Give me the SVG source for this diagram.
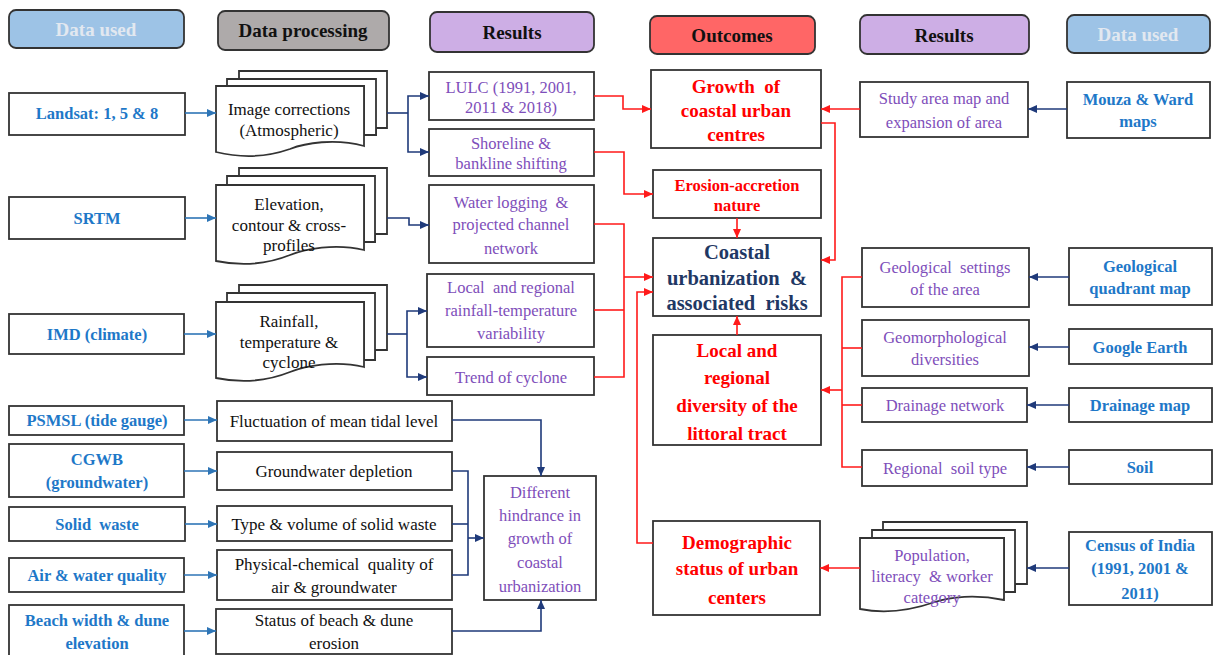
<svg xmlns="http://www.w3.org/2000/svg" width="1214" height="655" viewBox="0 0 1214 655">
<style>
text{font-family:"Liberation Serif","Times New Roman",serif;text-anchor:middle;dominant-baseline:central}
.box{fill:#fff;stroke:#333;stroke-width:1.8}
.hdr{stroke:#333;stroke-width:1.8}
.h{font-size:19px;font-weight:bold;fill:#111}
.hl{font-size:19px;font-weight:bold;fill:#E2E8F0}
.d{font-size:16.5px;font-weight:bold;fill:#1E78C8}
.p{font-size:17px;fill:#111}
.r{font-size:16.5px;fill:#7E4EBA}
.o{font-size:19px;font-weight:bold;fill:#FF0000}
.c{font-size:20.5px;font-weight:bold;fill:#1F3864}
.lb{fill:none;stroke:#2E75B6;stroke-width:1.6}
.ln{fill:none;stroke:#1F3A7A;stroke-width:1.6}
.lr{fill:none;stroke:#FF1A1A;stroke-width:1.6}
</style>
<defs>
<marker id="ab" markerUnits="userSpaceOnUse" markerWidth="10" markerHeight="10" refX="9" refY="5" orient="auto"><path d="M0,1 L9,5 L0,9 z" fill="#2E75B6"/></marker>
<marker id="an" markerUnits="userSpaceOnUse" markerWidth="10" markerHeight="10" refX="9" refY="5" orient="auto"><path d="M0,1 L9,5 L0,9 z" fill="#1F3A7A"/></marker>
<marker id="ar" markerUnits="userSpaceOnUse" markerWidth="10" markerHeight="10" refX="9" refY="5" orient="auto"><path d="M0,1 L9,5 L0,9 z" fill="#FF1A1A"/></marker>
</defs>

<!-- Headers -->
<g id="hdr-data-left"><rect class="hdr" x="9" y="10" width="175" height="38" rx="7" fill="#9DC3E6"/><text class="hl" x="96" y="29">Data used</text></g>
<g id="hdr-processing"><rect class="hdr" x="218" y="11" width="171" height="39" rx="7" fill="#AEAAAA"/><text class="h" x="303" y="30">Data processing</text></g>
<g id="hdr-results-left"><rect class="hdr" x="430" y="12" width="164" height="40" rx="7" fill="#CDAEE5"/><text class="h" x="512" y="32">Results</text></g>
<g id="hdr-outcomes"><rect class="hdr" x="650" y="16" width="165" height="38" rx="7" fill="#FF6666"/><text class="h" x="732" y="35">Outcomes</text></g>
<g id="hdr-results-right"><rect class="hdr" x="860" y="15" width="169" height="39" rx="7" fill="#CDAEE5"/><text class="h" x="944" y="35">Results</text></g>
<g id="hdr-data-right"><rect class="hdr" x="1067" y="15" width="143" height="38" rx="7" fill="#9DC3E6"/><text class="hl" x="1138" y="34">Data used</text></g>

<!-- Left data used -->
<g id="landsat"><rect class="box" x="9" y="93" width="176" height="42"/><text class="d" x="97" y="113">Landsat: 1, 5 &amp; 8</text></g>
<g id="srtm"><rect class="box" x="9" y="197" width="176" height="42"/><text class="d" x="97" y="218">SRTM</text></g>
<g id="imd"><rect class="box" x="9" y="314" width="175" height="40"/><text class="d" x="97" y="334">IMD (climate)</text></g>
<g id="psmsl"><rect class="box" x="9" y="406" width="175" height="29"/><text class="d" x="97" y="420">PSMSL (tide gauge)</text></g>
<g id="cgwb"><rect class="box" x="9" y="444" width="175" height="53"/><text class="d" x="97" y="459">CGWB</text><text class="d" x="97" y="482">(groundwater)</text></g>
<g id="solidwaste"><rect class="box" x="9" y="507" width="176" height="34"/><text class="d" x="97" y="524" xml:space="preserve">Solid  waste</text></g>
<g id="airwater"><rect class="box" x="9" y="558" width="175" height="34"/><text class="d" x="97" y="575">Air &amp; water quality</text></g>
<g id="beach"><rect class="box" x="9" y="605" width="175" height="60"/><text class="d" x="97" y="620">Beach width &amp; dune</text><text class="d" x="97" y="643">elevation</text></g>

<!-- Data processing multi-documents -->
<g id="imagecorr">
<path class="box" d="M239,71 H387 V128 H376 V135 H364 V86 H239 z"/>
<path class="box" d="M227,79 H376 V135 H364 V86 H227 z"/>
<path class="box" d="M216,86 H364 V146 C335,138 305,143 290,149 C270,156 245,159 216,152 z"/>
<text class="p" x="289" y="109">Image corrections</text><text class="p" x="289" y="130">(Atmospheric)</text>
</g>
<g id="elevation">
<path class="box" d="M239,168 H387 V234 H375 V242 H364 V185 H239 z"/>
<path class="box" d="M227,176 H375 V242 H364 V185 H227 z"/>
<path class="box" d="M216,185 H364 V250 C335,243 305,249 290,255 C270,263 245,267 216,261 z"/>
<text class="p" x="289" y="204">Elevation,</text><text class="p" x="289" y="225">contour &amp; cross-</text><text class="p" x="289" y="245">profiles</text>
</g>
<g id="rainfall">
<path class="box" d="M239,285 H387 V350 H375 V360 H364 V302 H239 z"/>
<path class="box" d="M227,293 H375 V360 H364 V302 H227 z"/>
<path class="box" d="M216,302 H364 V367 C335,360 305,366 290,372 C270,380 245,384 216,378 z"/>
<text class="p" x="289" y="321">Rainfall,</text><text class="p" x="289" y="342">temperature &amp;</text><text class="p" x="289" y="362">cyclone</text>
</g>

<!-- Lower processing boxes -->
<g id="tidal"><rect class="box" x="217" y="401" width="235" height="40"/><text class="p" x="334" y="421">Fluctuation of mean tidal level</text></g>
<g id="gwdepl"><rect class="box" x="217" y="452" width="235" height="38"/><text class="p" x="334" y="471">Groundwater depletion</text></g>
<g id="typevol"><rect class="box" x="217" y="506" width="235" height="35"/><text class="p" x="334" y="524">Type &amp; volume of solid waste</text></g>
<g id="physchem"><rect class="box" x="217" y="550" width="235" height="50"/><text class="p" x="334" y="564" xml:space="preserve">Physical-chemical  quality of</text><text class="p" x="334" y="587">air &amp; groundwater</text></g>
<g id="beachstatus"><rect class="box" x="216" y="609" width="236" height="45"/><text class="p" x="334" y="620">Status of beach &amp; dune</text><text class="p" x="334" y="643">erosion</text></g>

<!-- Results left -->
<g id="lulc"><rect class="box" x="429" y="72" width="165" height="48"/><text class="r" x="511" y="87">LULC (1991, 2001,</text><text class="r" x="511" y="107">2011 &amp; 2018)</text></g>
<g id="shoreline"><rect class="box" x="429" y="129" width="165" height="47"/><text class="r" x="511" y="143">Shoreline &amp;</text><text class="r" x="511" y="163">bankline shifting</text></g>
<g id="waterlog"><rect class="box" x="429" y="185" width="165" height="78"/><text class="r" x="511" y="202" xml:space="preserve">Water logging  &amp;</text><text class="r" x="511" y="224">projected channel</text><text class="r" x="511" y="248">network</text></g>
<g id="rainvar"><rect class="box" x="427" y="274" width="167" height="73"/><text class="r" x="511" y="287" xml:space="preserve">Local  and regional</text><text class="r" x="511" y="310">rainfall-temperature</text><text class="r" x="511" y="333">variability</text></g>
<g id="cyclone"><rect class="box" x="427" y="357" width="167" height="38"/><text class="r" x="511" y="377">Trend of cyclone</text></g>
<g id="hindrance"><rect class="box" x="484" y="476" width="112" height="124"/><text class="r" x="540" y="492">Different</text><text class="r" x="540" y="515">hindrance in</text><text class="r" x="540" y="538">growth of</text><text class="r" x="540" y="562">coastal</text><text class="r" x="540" y="586">urbanization</text></g>

<!-- Outcomes -->
<g id="growth"><rect class="box" x="651" y="70" width="170" height="78"/><text class="o" x="736" y="86" xml:space="preserve">Growth  of</text><text class="o" x="736" y="110">coastal urban</text><text class="o" x="736" y="134">centres</text></g>
<g id="erosion"><rect class="box" x="653" y="170" width="168" height="48"/><text class="o" x="737" y="185" style="font-size:16.5px">Erosion-accretion</text><text class="o" x="737" y="205" style="font-size:16.5px">nature</text></g>
<g id="coastal"><rect class="box" x="653" y="238" width="168" height="78"/><text class="c" x="737" y="252">Coastal</text><text class="c" x="737" y="278" xml:space="preserve">urbanization  &amp;</text><text class="c" x="737" y="303" xml:space="preserve">associated  risks</text></g>
<g id="diversity"><rect class="box" x="653" y="335" width="168" height="110"/><text class="o" x="737" y="350">Local and</text><text class="o" x="737" y="377">regional</text><text class="o" x="737" y="405">diversity of the</text><text class="o" x="737" y="433">littoral tract</text></g>
<g id="demographic"><rect class="box" x="653" y="521" width="167" height="94"/><text class="o" x="737" y="542">Demographic</text><text class="o" x="737" y="568">status of urban</text><text class="o" x="737" y="597">centers</text></g>

<!-- Results right -->
<g id="studyarea"><rect class="box" x="860" y="82" width="168" height="55"/><text class="r" x="944" y="98">Study area map and</text><text class="r" x="944" y="122">expansion of area</text></g>
<g id="geosettings"><rect class="box" x="862" y="248" width="167" height="59"/><text class="r" x="945" y="267" xml:space="preserve">Geological  settings</text><text class="r" x="945" y="289">of the area</text></g>
<g id="geomorph"><rect class="box" x="862" y="320" width="167" height="56"/><text class="r" x="945" y="337">Geomorphological</text><text class="r" x="945" y="359">diversities</text></g>
<g id="drainnet"><rect class="box" x="862" y="388" width="165" height="34"/><text class="r" x="945" y="405">Drainage network</text></g>
<g id="soiltype"><rect class="box" x="862" y="450" width="165" height="36"/><text class="r" x="945" y="468" xml:space="preserve">Regional  soil type</text></g>
<g id="population">
<path class="box" d="M883,522 H1027 V584 H1015 V592 H1004 V538 H883 z"/>
<path class="box" d="M872,530 H1015 V592 H1004 V538 H872 z"/>
<path class="box" d="M860,538 H1004 V600 C975,594 950,597 935,602 C912,610 885,614 860,609 z"/>
<text class="r" x="932" y="555">Population,</text><text class="r" x="932" y="576" xml:space="preserve">literacy  &amp; worker</text><text class="r" x="932" y="597">category</text>
</g>

<!-- Data used right -->
<g id="mouza"><rect class="box" x="1067" y="82" width="143" height="56"/><text class="d" x="1138" y="99">Mouza &amp; Ward</text><text class="d" x="1138" y="121">maps</text></g>
<g id="geoquad"><rect class="box" x="1069" y="248" width="143" height="57"/><text class="d" x="1140" y="266">Geological</text><text class="d" x="1140" y="288">quadrant map</text></g>
<g id="google"><rect class="box" x="1069" y="329" width="143" height="35"/><text class="d" x="1140" y="347">Google Earth</text></g>
<g id="drainmap"><rect class="box" x="1069" y="388" width="143" height="34"/><text class="d" x="1140" y="405">Drainage map</text></g>
<g id="soil"><rect class="box" x="1069" y="450" width="143" height="34"/><text class="d" x="1140" y="467">Soil</text></g>
<g id="census"><rect class="box" x="1069" y="532" width="143" height="73"/><text class="d" x="1140" y="545">Census of India</text><text class="d" x="1140" y="568">(1991, 2001 &amp;</text><text class="d" x="1140" y="593">2011)</text></g>

<!-- Connectors -->
<g id="connectors">
<path class="lb" d="M185,113 H216" marker-end="url(#ab)"/>
<path class="lb" d="M185,218 H216" marker-end="url(#ab)"/>
<path class="lb" d="M184,334 H216" marker-end="url(#ab)"/>
<path class="lb" d="M184,420 H217" marker-end="url(#ab)"/>
<path class="lb" d="M184,471 H217" marker-end="url(#ab)"/>
<path class="lb" d="M185,524 H217" marker-end="url(#ab)"/>
<path class="lb" d="M184,575 H217" marker-end="url(#ab)"/>
<path class="lb" d="M184,631 H216" marker-end="url(#ab)"/>

<path class="ln" d="M387,113 H408"/>
<path class="ln" d="M408,113 V96 H429" marker-end="url(#an)"/>
<path class="ln" d="M408,113 V152 H429" marker-end="url(#an)"/>
<path class="ln" d="M387,218 H409 V225 H429" marker-end="url(#an)"/>
<path class="ln" d="M387,334 H407"/>
<path class="ln" d="M407,334 V311 H427" marker-end="url(#an)"/>
<path class="ln" d="M407,334 V377 H427" marker-end="url(#an)"/>
<path class="ln" d="M452,420 H541 V476" marker-end="url(#an)"/>
<path class="ln" d="M452,471 H468 V575 H452"/>
<path class="ln" d="M452,524 H468"/>
<path class="ln" d="M468,538 H484" marker-end="url(#an)"/>
<path class="ln" d="M452,631 H541 V600" marker-end="url(#an)"/>
<path class="ln" d="M1067,109 H1028" marker-end="url(#an)"/>
<path class="ln" d="M1069,277 H1029" marker-end="url(#an)"/>
<path class="ln" d="M1069,347 H1029" marker-end="url(#an)"/>
<path class="ln" d="M1069,405 H1027" marker-end="url(#an)"/>
<path class="ln" d="M1069,467 H1027" marker-end="url(#an)"/>
<path class="ln" d="M1069,568 H1027" marker-end="url(#an)"/>

<path class="lr" d="M594,96 H623 V109 H651" marker-end="url(#ar)"/>
<path class="lr" d="M594,152 H624 V194 H653" marker-end="url(#ar)"/>
<path class="lr" d="M737,218 V238" marker-end="url(#ar)"/>
<path class="lr" d="M594,224 H624 V377 H594"/>
<path class="lr" d="M594,310 H624"/>
<path class="lr" d="M624,277 H653" marker-end="url(#ar)"/>
<path class="lr" d="M653,543 H637 V292 H653" marker-end="url(#ar)"/>
<path class="lr" d="M737,335 V316" marker-end="url(#ar)"/>
<path class="lr" d="M860,109 H821" marker-end="url(#ar)"/>
<path class="lr" d="M821,123 H835 V260 H821" marker-end="url(#ar)"/>
<path class="lr" d="M862,277 H842 V467 H862"/>
<path class="lr" d="M862,348 H842"/>
<path class="lr" d="M862,405 H842"/>
<path class="lr" d="M842,390 H821" marker-end="url(#ar)"/>
<path class="lr" d="M860,568 H820" marker-end="url(#ar)"/>
</g>
</svg>
